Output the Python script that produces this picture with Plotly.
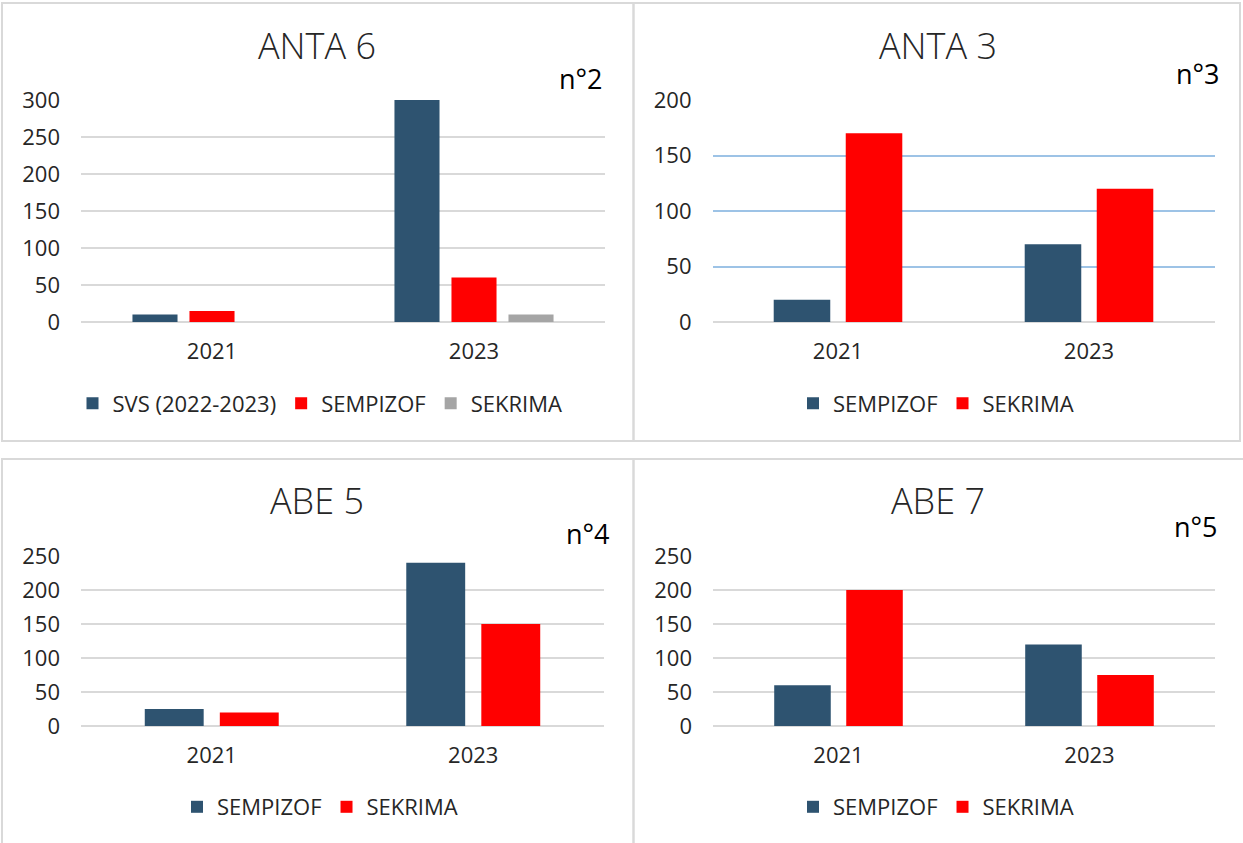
import plotly.graph_objects as go

W, H = 1243, 843

# ---------------- data ----------------
years = ["2021", "2023"]

anta6_svs = [10, 300]
anta6_sempizof = [15, 60]
anta6_sekrima = [None, 10]

anta3_sempizof = [20, 70]
anta3_sekrima = [170, 120]

abe5_sempizof = [25, 240]
abe5_sekrima = [20, 150]

abe7_sempizof = [60, 120]
abe7_sekrima = [200, 75]

titles = ["ANTA 6", "ANTA 3", "ABE 5", "ABE 7"]
numbers = ["n°2", "n°3", "n°4", "n°5"]
y_max = [300, 200, 250, 250]
y_step = 50

name_svs = "SVS (2022-2023)"
name_sempizof = "SEMPIZOF"
name_sekrima = "SEKRIMA"

# ---------------- style ----------------
NAVY = "#2E5370"
RED = "#FF0000"
GRAY = "#A5A5A5"
GRID = "#D9D9D9"
BLUEGRID = "#9DC3E6"
TXT = "#262626"
FONT = "Open Sans"


def fx(px):
    return px / W


def fy(py):
    return 1 - py / H


# plot areas in pixels: (x0, x1, ytop, ybottom)
areas = [
    (81, 605, 100, 322),
    (712.5, 1214.5, 100, 322),
    (81, 604, 556, 726),
    (713, 1215, 556, 726),
]

fig = go.Figure()

# Panel 1 (three series, explicit slot layout)
w1 = 0.172
slot1 = 0.2176
for i, (nm, vals, col) in enumerate([
    (name_svs, anta6_svs, NAVY),
    (name_sempizof, anta6_sempizof, RED),
    (name_sekrima, anta6_sekrima, GRAY),
]):
    fig.add_trace(go.Bar(
        x=years, y=vals, name=nm, marker=dict(color=col, line=dict(width=0)),
        width=w1, offset=(i - 1) * slot1 - w1 / 2,
        xaxis="x", yaxis="y", legend="legend",
    ))

panel_series = [
    (anta3_sempizof, anta3_sekrima),
    (abe5_sempizof, abe5_sekrima),
    (abe7_sempizof, abe7_sekrima),
]
for k, (s1, s2) in enumerate(panel_series, start=2):
    fig.add_trace(go.Bar(x=years, y=s1, name=name_sempizof,
                         marker=dict(color=NAVY, line=dict(width=0)),
                         xaxis=f"x{k}", yaxis=f"y{k}", legend=f"legend{k}"))
    fig.add_trace(go.Bar(x=years, y=s2, name=name_sekrima,
                         marker=dict(color=RED, line=dict(width=0)),
                         xaxis=f"x{k}", yaxis=f"y{k}", legend=f"legend{k}"))

layout = dict(
    width=W, height=H,
    margin=dict(l=0, r=0, t=0, b=0, pad=0, autoexpand=False),
    paper_bgcolor="white", plot_bgcolor="white",
    barmode="group", bargap=0.426, bargroupgap=0.215,
    font=dict(family=FONT, size=22, color=TXT),
    showlegend=True,
)

for k, (x0, x1, yt, yb) in enumerate(areas, start=1):
    sfx = "" if k == 1 else str(k)
    layout[f"xaxis{sfx}"] = dict(
        domain=[fx(x0), fx(x1)], anchor=f"y{sfx}", type="category",
        showgrid=False, zeroline=False, showline=False, ticks="",
        tickfont=dict(family=FONT, size=22, color=TXT),
        ticklabelstandoff=14, fixedrange=True, automargin=False,
    )
    layout[f"yaxis{sfx}"] = dict(
        domain=[fy(yb), fy(yt)], anchor=f"x{sfx}",
        range=[0, y_max[k - 1]], dtick=y_step, tick0=0,
        showgrid=True, gridcolor=BLUEGRID if k == 2 else GRID, gridwidth=2,
        zeroline=True, zerolinecolor=GRID, zerolinewidth=2,
        showline=False, ticks="",
        tickfont=dict(family=FONT, size=22, color=TXT),
        ticklabelstandoff=20, fixedrange=True, automargin=False,
    )

legend_pos = [(320, 403.5), (936, 403.5), (320, 807), (936, 807)]
for k, (lx, ly) in enumerate(legend_pos, start=1):
    sfx = "" if k == 1 else str(k)
    layout[f"legend{sfx}"] = dict(
        orientation="h", x=fx(lx), y=fy(ly), xanchor="center", yanchor="middle",
        font=dict(family=FONT, size=22, color=TXT), bgcolor="rgba(0,0,0,0)",
        traceorder="normal", itemclick=False, itemdoubleclick=False,
    )

fig.update_layout(**layout)

# titles and panel numbers
title_pos = [(317, 45), (938, 45), (317, 500), (938, 500)]
num_pos = [(605, 78), (1222, 73), (612, 533), (1220, 526)]
for t, (tx, ty) in zip(titles, title_pos):
    fig.add_annotation(text=t, x=fx(tx), y=fy(ty), xref="paper", yref="paper",
                       xanchor="center", yanchor="middle", showarrow=False,
                       font=dict(family=FONT, size=36, color=TXT, weight=300))
for t, (tx, ty) in zip(numbers, num_pos):
    fig.add_annotation(text=t, x=fx(tx), y=fy(ty), xref="paper", yref="paper",
                       xanchor="right", yanchor="middle", showarrow=False,
                       font=dict(family=FONT, size=27, color="#000000"))

# panel borders
BORDER = "#D9D9D9"
for (x0, y0, x1, y1) in [(2, 3, 633.5, 441), (633.5, 3, 1240, 441),
                         (2, 459, 633.5, 850), (633.5, 459, 1250, 850)]:
    fig.add_shape(type="rect", xref="paper", yref="paper",
                  x0=fx(x0), x1=fx(x1), y0=fy(y1), y1=fy(y0),
                  line=dict(color=BORDER, width=2), fillcolor="rgba(0,0,0,0)",
                  layer="below")

page_fix = (
    "document.documentElement.style.margin='0';"
    "document.body.style.margin='0';document.body.style.padding='0';"
    "document.documentElement.style.overflow='hidden';"
    "document.body.style.overflow='hidden';"
)

fig.write_html("out.html", post_script=page_fix, config={"displayModeBar": False})
